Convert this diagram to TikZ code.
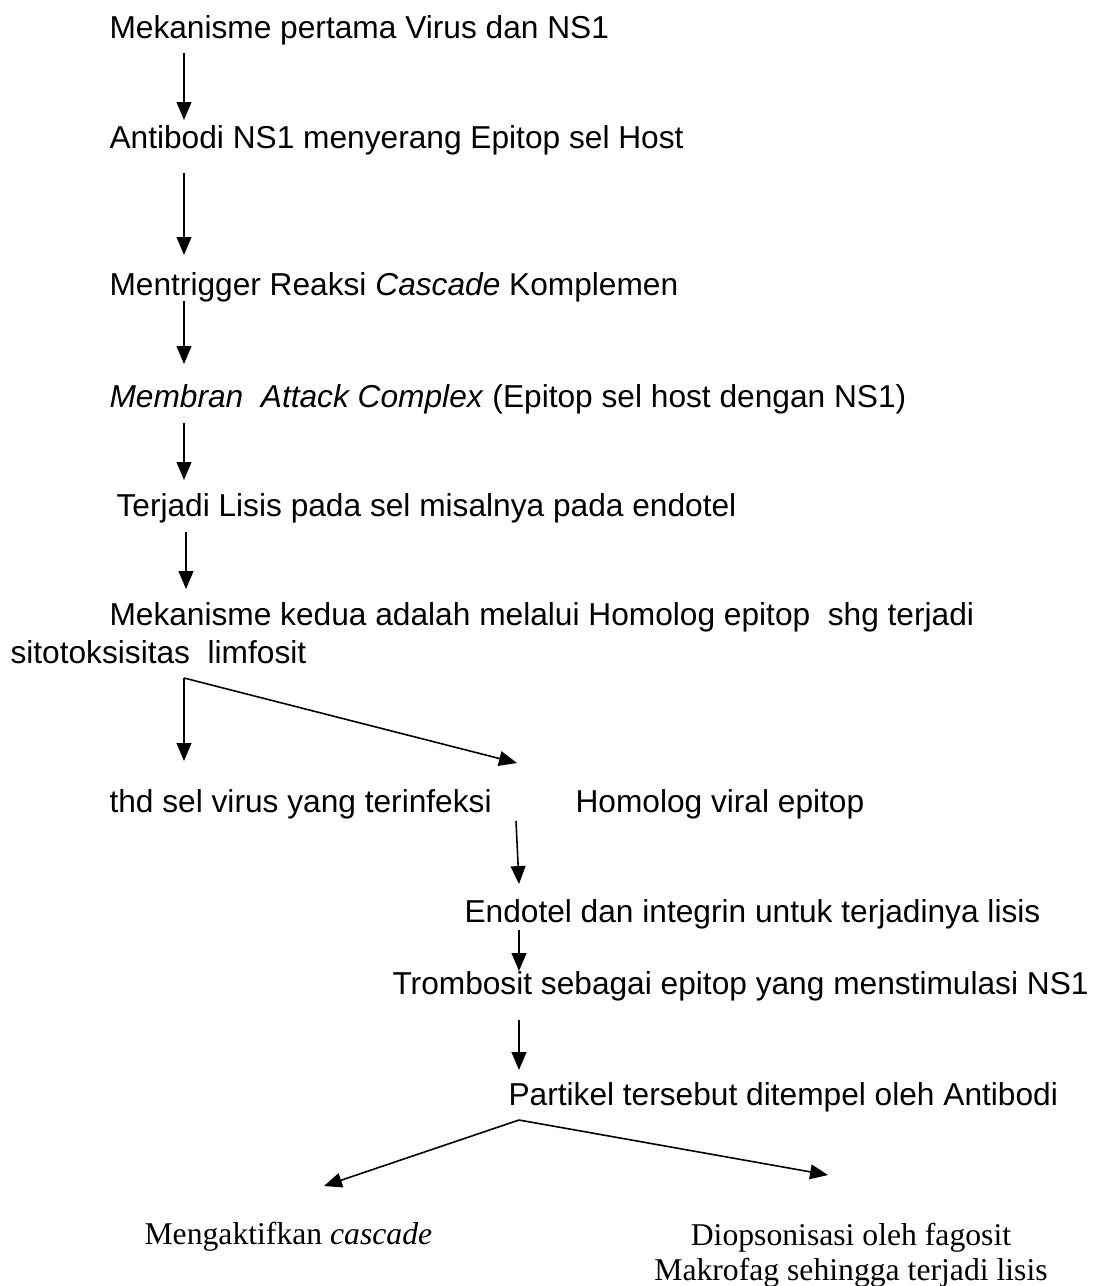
\documentclass[tikz,border=0pt]{standalone}
\usepackage{fontspec}
\setmainfont{Liberation Sans}
\newfontfamily\timesfont{Liberation Serif}
\usetikzlibrary{arrows.meta}

\begin{document}
\begin{tikzpicture}[x=0.3788pt, y=-0.3788pt,
        every node/.style={inner sep=0pt, anchor=base west, font=\fontsize{12}{14}\selectfont},
        arr/.style={-{Triangle[length=6.8pt, width=5.6pt]}, line width=0.6pt}]
        \useasboundingbox (0,0) rectangle (1099,1286);
        \node (mek1) at (109, 38) {Mekanisme pertama Virus dan NS1};
        \node (anti) at (109, 148) {Antibodi NS1 menyerang Epitop sel Host};
        \node (trig) at (109, 295) {Mentrigger Reaksi \textit{Cascade} Komplemen};
        \node (mac) at (109, 407) {\textit{Membran~ Attack Complex} (Epitop sel host dengan NS1)};
        \node (lis) at (116, 516) {Terjadi Lisis pada sel misalnya pada endotel};
        \node (mek2) at (109, 625) {Mekanisme kedua adalah melalui Homolog epitop~ shg terjadi};
        \node (lim) at (10, 663) {sitotoksisitas~ limfosit};
        \node (thd) at (109, 812) {thd sel virus yang terinfeksi};
        \node (homo) at (575, 812) {Homolog viral epitop};
        \node (endo) at (464, 922) {Endotel dan integrin untuk terjadinya lisis};
        \node (trombo) at (392, 994) {Trombosit sebagai epitop yang menstimulasi NS1};
        \node (parti) at (508, 1105) {Partikel tersebut ditempel oleh Antibodi};
        \node[font=\timesfont\fontsize{12}{13.3}\selectfont] (aktif) at (144, 1244) {Mengaktifkan \textit{cascade}};
        \node[font=\timesfont\fontsize{12}{13.3}\selectfont, anchor=north, align=center] (opson) at (851, 1223)
            {Diopsonisasi oleh fagosit\\Makrofag sehingga terjadi lisis};
        \coordinate (ax) at (184, 0);
        \coordinate (bx) at (519, 0);
        \draw[arr] (mek1.base -| ax) ++(0,15) -- ++(0,67);
        \draw[arr] (anti.base -| ax) ++(0,25) -- ++(0,82);
        \draw[arr] (trig.base -| ax) ++(0,6) -- ++(0,63);
        \draw[arr] (mac.base -| ax) ++(0,16) -- ++(0,57);
        \draw[arr] (lis.base -| ax) ++(2,16) -- ++(0,57);
        \draw[arr] (lim.base -| ax) ++(0,15) coordinate (br1) -- ++(0,83);
        \draw[arr] (br1) -- ++(333,85);
        \draw[arr] (homo.base -| bx) ++(-3,9) -- ++(3,63);
        \draw[arr] (endo.base -| bx) ++(0,8) -- ++(0,41);
        \draw[arr] (trombo.base -| bx) ++(0,26) -- ++(0,50);
        \draw[arr] (parti.base -| bx) ++(0,15) coordinate (br2) -- (324, 1186);
        \draw[arr] (br2) -- (828, 1175);
    \end{tikzpicture}
\end{document}
